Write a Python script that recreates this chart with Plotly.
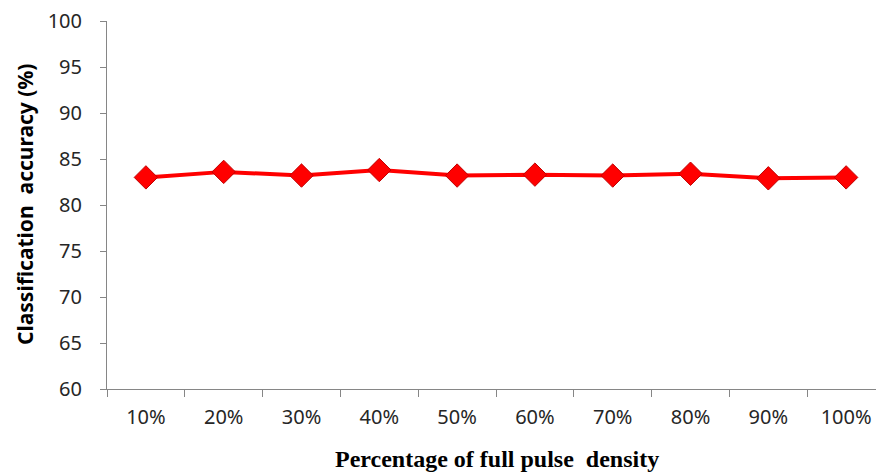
import plotly.graph_objects as go

categories = ["10%", "20%", "30%", "40%", "50%", "60%", "70%", "80%", "90%", "100%"]
accuracy = [83.0, 83.6, 83.2, 83.8, 83.2, 83.3, 83.2, 83.4, 82.9, 83.0]
y_ticks = [60, 65, 70, 75, 80, 85, 90, 95, 100]

fig = go.Figure()
fig.add_trace(go.Scatter(
    x=categories, y=accuracy, mode="lines+markers",
    line=dict(color="#FF0000", width=4),
    marker=dict(symbol="diamond", size=18, color="#FF0000",
                line=dict(color="#C00000", width=1)),
    showlegend=False,
))

axis_color = "#868686"
fig.update_layout(
    width=876, height=474,
    margin=dict(l=107, r=0, t=21, b=85),
    paper_bgcolor="white", plot_bgcolor="white",
    font=dict(family="Noto Sans", size=20, color="#262626"),
    xaxis=dict(
        type="category", range=[-0.5, 9.384],
        showline=True, linecolor=axis_color, linewidth=1,
        ticks="outside", tickson="boundaries", ticklen=7, tickcolor=axis_color,
        showgrid=False, zeroline=False, ticklabelstandoff=10,
    ),
    yaxis=dict(
        range=[60, 100], tickvals=y_ticks,
        showline=True, linecolor=axis_color, linewidth=1,
        ticks="outside", ticklen=6, tickcolor=axis_color,
        showgrid=False, zeroline=False, ticklabelstandoff=14,
    ),
    annotations=[
        dict(text="<b>Percentage of full pulse  density</b>", xref="paper", yref="paper",
             x=(497 - 107) / 769, y=-(459 - 389) / 368, xanchor="center", yanchor="middle",
             showarrow=False, font=dict(family="Liberation Serif", size=24, color="#000000")),
        dict(text="<b>Classification  accuracy (%)</b>", xref="paper", yref="paper",
             x=-(107 - 25) / 769, y=0.5, xanchor="center", yanchor="middle", textangle=-90,
             showarrow=False, font=dict(family="Noto Sans", size=21, color="#000000")),
    ],
)

fig.write_html("out.html", config={"displayModeBar": False},
               post_script="document.body.style.margin='0';")
